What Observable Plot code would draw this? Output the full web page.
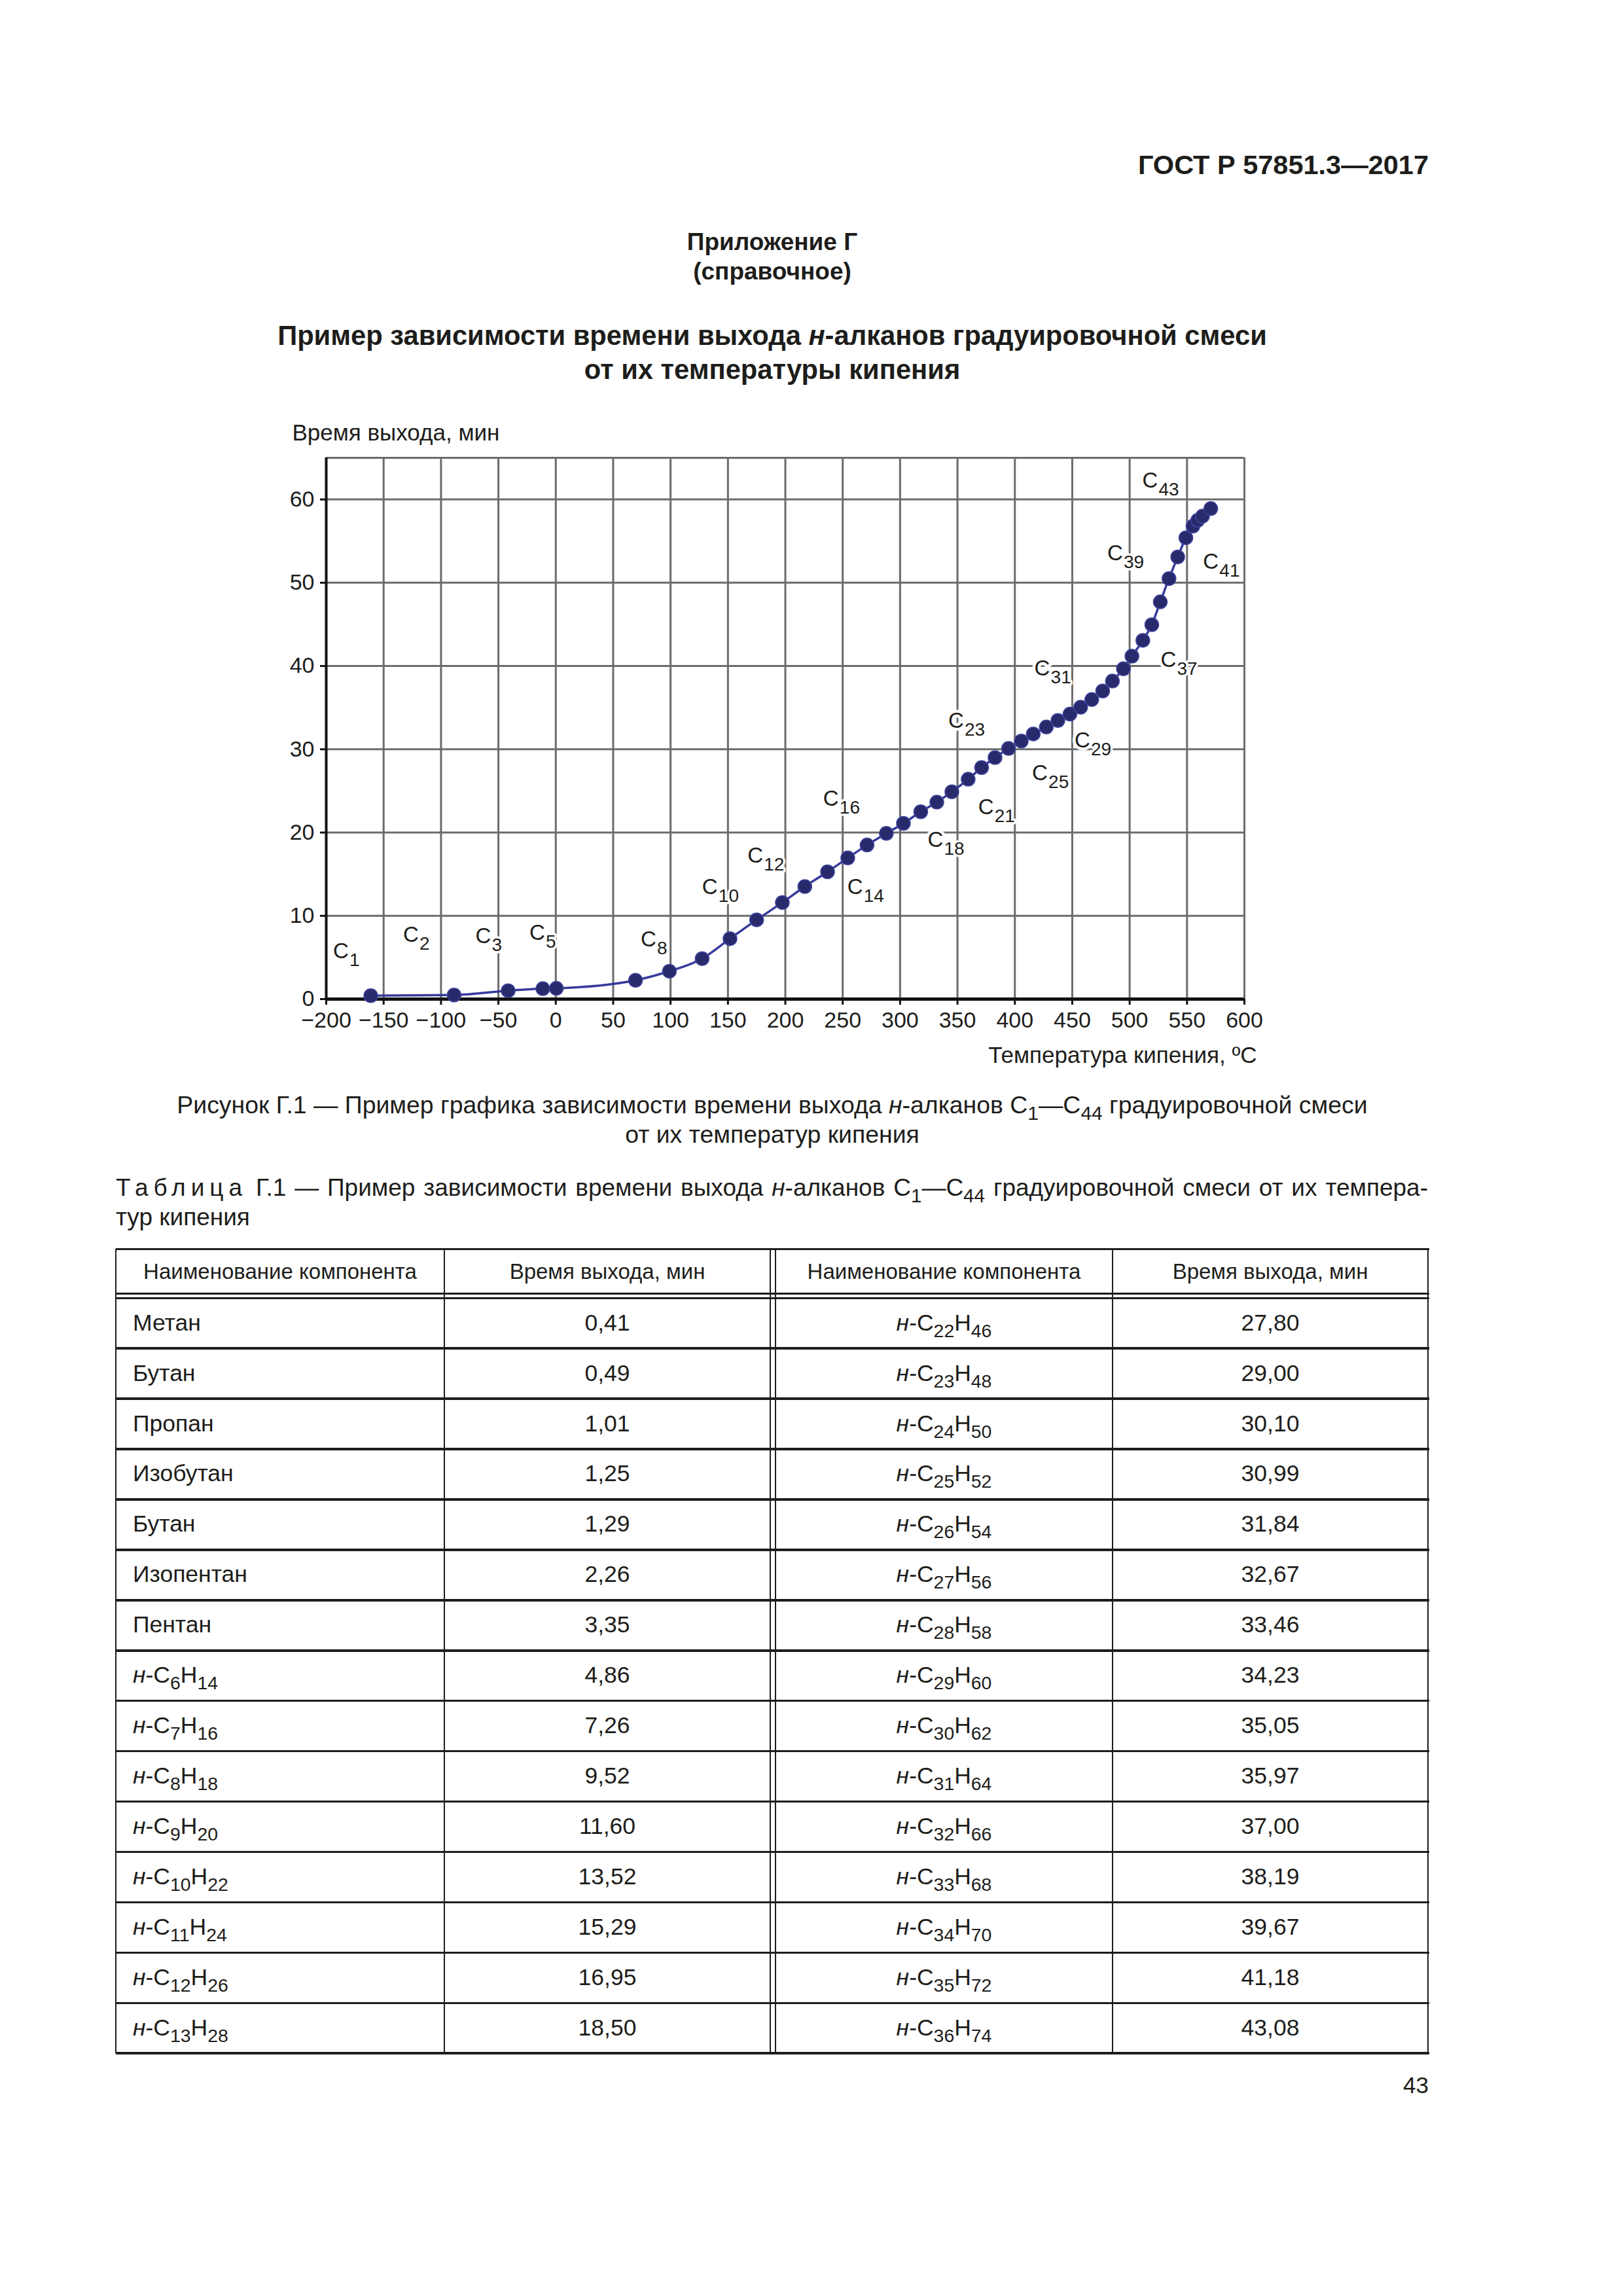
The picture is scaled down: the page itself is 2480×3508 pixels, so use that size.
<!DOCTYPE html>
<html>
<head>
<meta charset="utf-8">
<script src="https://cdn.jsdelivr.net/npm/d3@7"></script>
<script src="https://cdn.jsdelivr.net/npm/@observablehq/plot@0.6"></script>
<style>
  html, body { margin: 0; padding: 0; background: #ffffff; }
  body { width: 2480px; height: 3508px; position: relative; overflow: hidden;
         font-family: "Liberation Sans", Arial, sans-serif; color: #1d1d1b; }
  .t { position: absolute; white-space: nowrap; }
  sub { font-size: 0.8em; vertical-align: -0.34em; line-height: 0; }
  .hl { position: absolute; background: #1d1d1b; }
  .cell { position: absolute; display: flex; align-items: center; white-space: nowrap; }
  #chart { position: absolute; left: 0; top: 600px; }
</style>
</head>
<body>
<div id="chart"></div>
<script>
// ---------------- DATA ----------------
// Chart points (boiling temperature, °C  /  retention time, min)
const chartTemp = [-161.2, -88.6, -41.5, -11.3, 0.5, 69.5, 99, 127.5, 151.8, 175, 197.4, 217, 236.8, 254.4, 271.2,
                   288, 302.9, 318, 332, 345.1, 359.3,
                   371, 382.7, 394.5, 405.6, 416, 427.4, 437.5, 448, 457.3, 467, 476.5, 485, 494.6, 502, 511.5,
                   519.3, 526.7, 534.3, 541.9, 549, 555.2, 559.3, 563.5, 570.7];
const chartTime = [0.41, 0.49, 1.01, 1.25, 1.29, 2.26, 3.35, 4.86, 7.26, 9.52, 11.60, 13.52, 15.29, 16.95, 18.50,
                   19.9, 21.1, 22.5, 23.65, 24.9, 26.4,
                   27.80, 29.00, 30.10, 30.99, 31.84, 32.67, 33.46, 34.23, 35.05, 35.97, 37.00, 38.19, 39.67, 41.18, 43.08,
                   44.96, 47.7, 50.5, 53.1, 55.4, 56.8, 57.5, 58.0, 58.9];

// Carbon-number annotations (anchor in data units)
const labelCarbon = ["1", "2", "3", "5", "8", "10", "12", "14", "16", "18", "21", "23", "25", "29", "31", "37", "39", "41", "43"];
const labelTemp   = [-194, -133, -70, -23, 74, 127.5, 167, 254, 233, 324, 368, 342, 415, 452, 417, 527, 480.5, 564, 511];
const labelTime   = [4.9, 6.9, 6.7, 7.1, 6.35, 12.6, 16.4, 12.6, 23.25, 18.3, 22.2, 32.55, 26.3, 30.2, 38.85, 39.9, 52.7, 51.7, 61.4];

// Ticks
const xTickValues = [-200, -150, -100, -50, 0, 50, 100, 150, 200, 250, 300, 350, 400, 450, 500, 550, 600];
const yTickValues = [0, 10, 20, 30, 40, 50, 60];
const xGridValues = [-150, -100, -50, 0, 50, 100, 150, 200, 250, 300, 350, 400, 450, 500, 550, 600];
const yGridValues = [10, 20, 30, 40, 50, 60, 65];

// Table Г.1
const leftNames  = ["Метан", "Бутан", "Пропан", "Изобутан", "Бутан", "Изопентан", "Пентан",
                    "н-C6H14", "н-C7H16", "н-C8H18", "н-C9H20", "н-C10H22", "н-C11H24", "н-C12H26", "н-C13H28"];
const leftTimes  = [0.41, 0.49, 1.01, 1.25, 1.29, 2.26, 3.35, 4.86, 7.26, 9.52, 11.60, 13.52, 15.29, 16.95, 18.50];
const rightNames = ["н-C22H46", "н-C23H48", "н-C24H50", "н-C25H52", "н-C26H54", "н-C27H56", "н-C28H58", "н-C29H60",
                    "н-C30H62", "н-C31H64", "н-C32H66", "н-C33H68", "н-C34H70", "н-C35H72", "н-C36H74"];
const rightTimes = [27.80, 29.00, 30.10, 30.99, 31.84, 32.67, 33.46, 34.23, 35.05, 35.97, 37.00, 38.19, 39.67, 41.18, 43.08];
const headers    = ["Наименование компонента", "Время выхода, мин", "Наименование компонента", "Время выхода, мин"];

// ---------------- CHART ----------------
const ink = "#1d1d1b";
const pts = chartTemp.map((t, i) => ({t, time: chartTime[i]}));
const labels = labelCarbon.map((c, i) => ({c, t: labelTemp[i], time: labelTime[i]}));
const font = "'Liberation Sans', Arial, sans-serif";

const chart = Plot.plot({
  width: 2480,
  height: 1060,
  marginLeft: 498,
  marginRight: 579,
  marginTop: 99,
  marginBottom: 134,
  x: {domain: [-200, 600]},
  y: {domain: [0, 65]},
  style: {fontFamily: font, fontSize: "34px", color: ink, background: "transparent", overflow: "visible"},
  marks: [
    Plot.ruleX(xGridValues, {stroke: "#6c6c6c", strokeWidth: 3}),
    Plot.ruleY(yGridValues, {stroke: "#6c6c6c", strokeWidth: 3}),
    Plot.ruleX([-200], {stroke: "#111", strokeWidth: 4}),
    Plot.ruleY([0], {stroke: "#111", strokeWidth: 5}),
    Plot.axisX({ticks: xTickValues, tickSize: 9, tickPadding: 10, stroke: "#111", strokeWidth: 3,
                fontSize: 34, label: null, tickFormat: d => d < 0 ? "−" + Math.abs(d) : String(d)}),
    Plot.axisY({ticks: yTickValues, tickSize: 9, tickPadding: 9, stroke: "#111", strokeWidth: 3,
                fontSize: 34, label: null}),
    Plot.line(pts, {x: "t", y: "time", curve: "monotone-x", stroke: "#363a9c", strokeWidth: 3.5}),
    Plot.dot(pts, {x: "t", y: "time", r: 10.5, fill: "#282a6c", stroke: "#40449c", strokeWidth: 1.5}),
    Plot.text(labels, {x: "t", y: "time", text: () => "C", textAnchor: "start", lineAnchor: "bottom",
                       fontSize: 33, fill: ink, stroke: "white", strokeWidth: 9, paintOrder: "stroke"}),
    Plot.text(labels, {x: "t", y: "time", text: "c", textAnchor: "start", lineAnchor: "bottom",
                       dx: 25, dy: 12, fontSize: 28, fill: ink, stroke: "white", strokeWidth: 7, paintOrder: "stroke"}),
    Plot.text(["Время выхода, мин"], {frameAnchor: "top-left", textAnchor: "start", lineAnchor: "bottom",
                       dx: -52, dy: -27, fontSize: 35, fill: ink}),
    Plot.text(["Температура кипения, ºС"], {frameAnchor: "bottom-right", textAnchor: "end", lineAnchor: "bottom",
                       dx: 19, dy: 97, fontSize: 35, fill: ink})
  ]
});
document.getElementById("chart").appendChild(chart);

// ---------------- PAGE TEXT ----------------
function addText(html, o) {
  const d = document.createElement("div");
  d.className = "t";
  const L = Math.round(o.fs * 1.25);
  d.style.fontSize = o.fs + "px";
  d.style.lineHeight = L + "px";
  d.style.top = (o.capY - L / 2) + "px";
  if (o.bold) d.style.fontWeight = "bold";
  if (o.center !== undefined) { d.style.left = (o.center - 1100) + "px"; d.style.width = "2200px"; d.style.textAlign = "center"; }
  if (o.left !== undefined) d.style.left = o.left + "px";
  if (o.right !== undefined) d.style.right = (2480 - o.right) + "px";
  if (o.width !== undefined) { d.style.width = o.width + "px"; }
  if (o.justify) { d.style.textAlign = "justify"; d.style.textAlignLast = "justify"; d.style.whiteSpace = "normal"; }
  d.innerHTML = html;
  document.body.appendChild(d);
  return d;
}

addText("ГОСТ Р 57851.3—2017", {right: 2183, capY: 252, fs: 41.5, bold: true});
addText("Приложение Г", {center: 1180, capY: 370, fs: 37, bold: true});
addText("(справочное)", {center: 1180, capY: 415, fs: 37, bold: true});
addText("Пример зависимости времени выхода <i>н</i>-алканов градуировочной смеси", {center: 1180, capY: 513, fs: 41.7, bold: true});
addText("от их температуры кипения", {center: 1180, capY: 565, fs: 41.7, bold: true});

addText("Рисунок Г.1 — Пример графика зависимости времени выхода <i>н</i>-алканов С<sub>1</sub>—С<sub>44</sub> градуировочной смеси",
        {center: 1180, capY: 1688, fs: 37.4});
addText("от их температур кипения", {center: 1180, capY: 1733, fs: 37.4});

addText("<span style='letter-spacing:8px'>Таблица</span> Г.1 — Пример зависимости времени выхода <i>н</i>-алканов С<sub>1</sub>—С<sub>44</sub> градуировочной смеси от их темпера-",
        {left: 177, width: 2005, capY: 1815, fs: 37, justify: true});
addText("тур кипения", {left: 177, capY: 1860, fs: 37});

addText("43", {right: 2183, capY: 3186, fs: 35});

// ---------------- TABLE ----------------
const tTop = 1908, headH = 68, gapH = 7, rowH = 76.93;
const colEdges = [177, 679, 1177, 1185, 1700, 2182];
const cols = [[177, 679], [679, 1177], [1185, 1700], [1700, 2182]];
const bodyTop = tTop + headH + gapH;
const tBottom = bodyTop + rowH * leftNames.length;

function line(x, y, w, h) {
  const d = document.createElement("div");
  d.className = "hl";
  d.style.left = x + "px"; d.style.top = y + "px";
  d.style.width = w + "px"; d.style.height = h + "px";
  document.body.appendChild(d);
}
function fmt(v) { return v.toFixed(2).replace(".", ","); }
function formula(s) {
  if (s.startsWith("н-")) {
    return "<i>н</i>-" + s.slice(2).replace(/(\d+)/g, "<sub>$1</sub>");
  }
  return s;
}
function cell(html, c, top, h, align, fs, padLeft) {
  const d = document.createElement("div");
  d.className = "cell";
  d.style.left = cols[c][0] + "px";
  d.style.width = (cols[c][1] - cols[c][0]) + "px";
  d.style.top = top + "px";
  d.style.height = h + "px";
  d.style.fontSize = fs + "px";
  d.style.lineHeight = "1";
  d.style.justifyContent = align === "left" ? "flex-start" : "center";
  if (padLeft) { d.style.paddingLeft = padLeft + "px"; d.style.boxSizing = "border-box"; }
  const s = document.createElement("span");
  s.innerHTML = html;
  d.appendChild(s);
  document.body.appendChild(d);
}

// horizontal rules
line(177, tTop - 1.5, 2007, 3.5);
line(177, tTop + headH - 1, 2007, 2.5);
for (let i = 0; i <= leftNames.length; i++) {
  line(177, bodyTop + i * rowH - 1.5, 2007, 3.5);
}
// vertical rules
colEdges.forEach(x => line(x - 1, tTop, 2.2, tBottom - tTop));

headers.forEach((h, c) => cell(h, c, tTop, headH, "center", 33));
leftNames.forEach((n, i) => {
  const top = bodyTop + i * rowH;
  cell(formula(n), 0, top, rowH, "left", 35.5, 26);
  cell(fmt(leftTimes[i]), 1, top, rowH, "center", 35.5);
  cell(formula(rightNames[i]), 2, top, rowH, "center", 35.5);
  cell(fmt(rightTimes[i]), 3, top, rowH, "center", 35.5);
});
</script>
</body>
</html>
